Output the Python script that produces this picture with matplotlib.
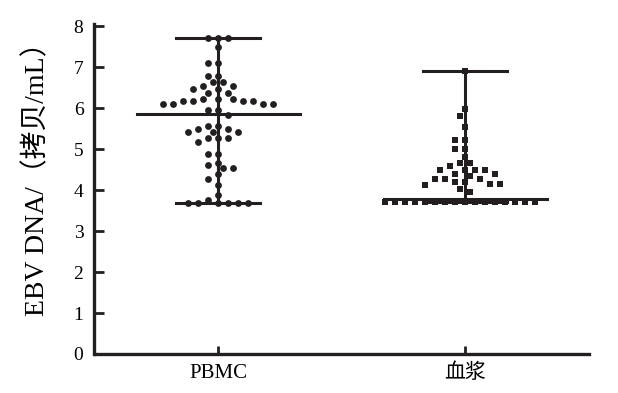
import numpy as np
import matplotlib
matplotlib.use("Agg")
import matplotlib.pyplot as plt

plt.rcParams['font.family'] = ['Liberation Serif', 'Noto Sans CJK SC']

groups = ['PBMC', '血浆']
pbmc = [7.72, 7.72, 7.72, 7.50, 7.09, 7.09, 6.78, 6.78, 6.64, 6.64, 6.54, 6.54,
        6.46, 6.46, 6.37, 6.37, 6.22, 6.22, 6.22, 6.17, 6.17, 6.17, 6.17,
        6.10, 6.10, 6.10, 6.10, 5.95, 5.95, 5.83, 5.56, 5.56, 5.50, 5.50,
        5.42, 5.42, 5.42, 5.28, 5.28, 5.28, 5.18, 4.87, 4.87, 4.67, 4.61,
        4.53, 4.53, 4.38, 4.27, 4.12, 3.88, 3.76,
        3.69, 3.69, 3.69, 3.69, 3.69, 3.69]
plasma = [6.91, 5.97, 5.80, 5.54, 5.22, 5.22, 5.00, 5.00, 4.81, 4.67, 4.67,
          4.59, 4.49, 4.49, 4.49, 4.49, 4.39, 4.39, 4.34, 4.26, 4.26, 4.26,
          4.20, 4.20, 4.14, 4.14, 4.13, 4.02, 3.96] + [3.72] * 16
centre_line = [5.85, 3.78]
markers = ['o', 's']

ink = '#231f20'


def swarm(vals, px_y=41.0, px_x=247.0, d=7.5, step=5.0):
    # simple beeswarm: nearest free slot on a 5 px grid
    vals = np.asarray(vals)
    placed = []
    offs = np.zeros(len(vals))
    cands = [0.0]
    for k in range(1, 40):
        cands += [-k * step, k * step]
    for i in np.argsort(-vals, kind='stable'):
        y = vals[i] * px_y
        for c in cands:
            if all((c - px) ** 2 + (y - py) ** 2 >= d ** 2 for px, py in placed):
                break
        placed.append((c, y))
        offs[i] = c / px_x
    return offs


fig = plt.figure(figsize=(6.18, 3.93), dpi=100)
ax = fig.add_axes([94.5 / 618, 39 / 393, 494.5 / 618, 330 / 393])

for i, data in enumerate([pbmc, plasma]):
    data = np.asarray(data)
    ax.scatter(i + swarm(data), data, s=24, marker=markers[i], color=ink,
               linewidths=0, zorder=3)
    lo, hi = data.min(), data.max()
    ax.plot([i, i], [lo, hi], color=ink, lw=2.2, zorder=4)
    for v in (lo, hi):
        ax.plot([i - 0.17, i + 0.17], [v, v], color=ink, lw=2.2, zorder=4)
    ax.plot([i - 0.33, i + 0.33], [centre_line[i]] * 2, color=ink, lw=2.2,
            zorder=4)

ax.set_xlim(-0.5, 1.5)
ax.set_ylim(0, 8.05)
ax.set_yticks(range(0, 9))
ax.set_xticks([0, 1])
ax.set_xticklabels(groups, fontsize=15)
ax.tick_params(axis='y', direction='in', length=7, width=2, color=ink,
               labelsize=14, pad=8)
ax.tick_params(axis='x', direction='in', length=6, width=2, color=ink, pad=7)

for side in ['top', 'right']:
    ax.spines[side].set_visible(False)
for side in ['left', 'bottom']:
    ax.spines[side].set_linewidth(2.4)
    ax.spines[side].set_color(ink)

ax.set_ylabel('EBV DNA/（拷贝/mL）', fontsize=20)
ax.yaxis.set_label_coords(-0.09, 0.55)

fig.savefig('out.png', dpi=100)
